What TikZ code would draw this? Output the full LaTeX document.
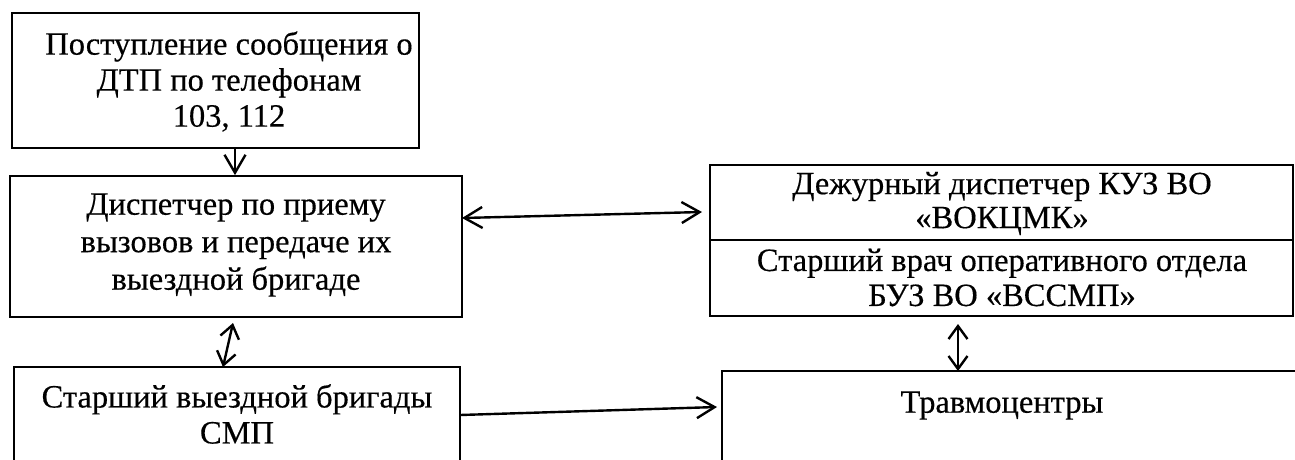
\documentclass[tikz,border=0pt]{standalone}
\usepackage{fontspec}
\setmainfont{Liberation Serif}[FakeBold=0.4]
\usetikzlibrary{arrows.meta,fit}
\begin{document}
\begin{tikzpicture}[x=1pt,y=-1pt,
  box/.style={draw, line width=1.7pt, inner sep=0pt, rectangle},
  thinbox/.style={draw, line width=1.3pt, inner sep=0pt, rectangle},
  txt/.style={align=center, inner sep=0pt, font=\fontsize{32.5}{36}\selectfont},
  arr/.style={line width=2.4pt, -{Straight Barb[length=18pt,width=21pt]}},
  dbl/.style={line width=2.4pt, {Straight Barb[length=18pt,width=21pt]}-{Straight Barb[length=18pt,width=21pt]}},
  vdbl/.style={line width=2.4pt, {Straight Barb[length=13pt,width=19pt]}-{Straight Barb[length=13pt,width=19pt]}}]
\useasboundingbox (0,0) rectangle (1295,459);
\clip (0,0) rectangle (1295,459);
% boxes
\node[box, fit={(12,13) (419,148)}] (b1) {};
\node[box, fit={(10,176) (462,317)}] (b2) {};
\node[box, fit={(14,367) (460,480)}] (b3) {};
\node[thinbox, fit={(710,165) (1293,240)}] (b4) {};
\node[thinbox, fit={(710,240) (1293,316)}] (b5) {};
\node[box, fit={(722,371) (1310,480)}] (b6) {};
% texts
\node[txt] (t1) at (229,81.5) {Поступление сообщения о\\ДТП по телефонам\\103, 112};
\node[txt, font=\fontsize{32.5}{37.5}\selectfont] (t2) at (236,245) {Диспетчер по приему\\вызовов и передаче их\\выездной бригаде};
\node[txt] (t3) at (237,414) {Старший выездной бригады\\СМП};
\node[txt, font=\fontsize{32.5}{34}\selectfont] (t4) at (1002,203.5) {Дежурный диспетчер КУЗ ВО\\«ВОКЦМК»};
\node[txt, font=\fontsize{32.5}{35}\selectfont] (t5) at (1002,277.5) {Старший врач оперативного отдела\\БУЗ ВО «ВССМП»};
\node[txt] (t6) at (1002,405.5) {Травмоцентры};
% connector end points
\coordinate (a1x) at (235,0);
\coordinate (a2l) at (462,218);
\coordinate (a2r) at (702,212);
\coordinate (a3t) at (233,323);
\coordinate (a3b) at (223,367);
\coordinate (a4t) at (958,324);
\coordinate (a4b) at (958,371);
\coordinate (a5l) at (460,415);
\coordinate (a5r) at (717,407);
% connectors
\draw[arr] (b1.south -| a1x) -- (b2.north -| a1x);
\draw[dbl] (a2l) -- (a2r);
\draw[vdbl] (a3t) -- (a3b);
\draw[vdbl] (a4t) -- (a4b);
\draw[arr] (a5l) -- (a5r);
\end{tikzpicture}
\end{document}
